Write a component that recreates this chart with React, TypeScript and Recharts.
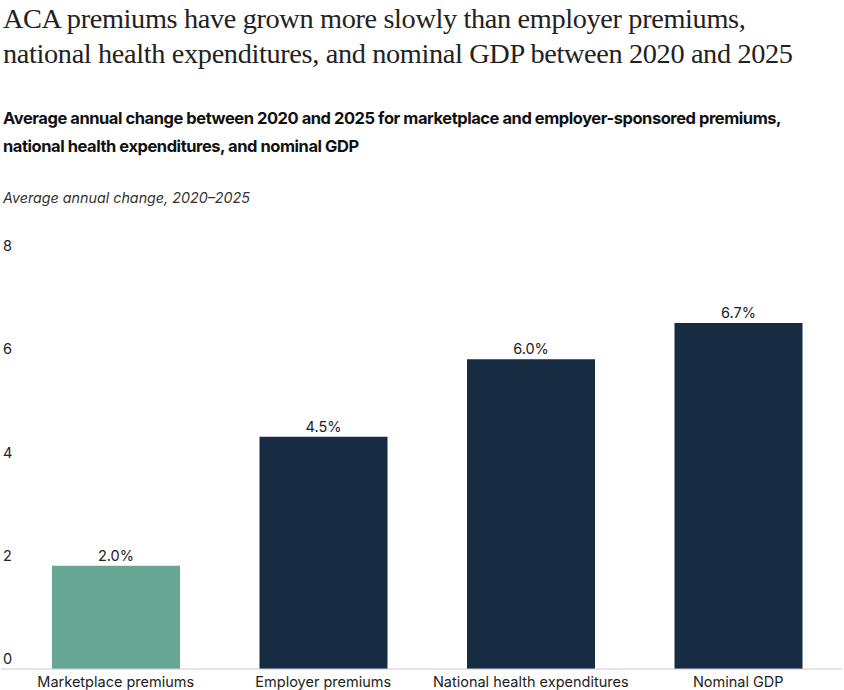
import { BarChart, Bar, XAxis, YAxis, Cell, LabelList } from 'recharts'

const categories = ['Marketplace premiums', 'Employer premiums', 'National health expenditures', 'Nominal GDP']
const changes = [2.0, 4.5, 6.0, 6.7]
const yTicks = [0, 2, 4, 6, 8]

const GREEN = '#67a692'
const NAVY = '#172b43'
const SANS = 'Inter, "Liberation Sans", sans-serif'

const data = categories.map((name, i) => ({ name, value: changes[i] }))

function YTick(props: any) {
  const { y, payload } = props
  return (
    <text x={3} y={y - 5} fontSize={14.5} fill="#222" fontFamily={SANS}>
      {payload.value}
    </text>
  )
}

export default function App() {
  return (
    <div style={{ position: 'absolute', left: 0, top: 0, width: 844, height: 690, background: '#fff' }}>
      <div
        style={{
          position: 'absolute',
          left: 3,
          top: 1,
          fontFamily: '"Liberation Serif", serif',
          fontSize: 28.3,
          lineHeight: '35px',
          color: '#222',
          letterSpacing: -0.35,
        }}
      >
        ACA premiums have grown more slowly than employer premiums,
        <br />
        national health expenditures, and nominal GDP between 2020 and 2025
      </div>
      <div
        style={{
          position: 'absolute',
          left: 3,
          top: 104,
          fontFamily: SANS,
          fontWeight: 700,
          fontSize: 16.5,
          lineHeight: '28px',
          letterSpacing: -0.45,
          color: '#111',
        }}
      >
        Average annual change between 2020 and 2025 for marketplace and employer-sponsored premiums,
        <br />
        national health expenditures, and nominal GDP
      </div>
      <div
        style={{
          position: 'absolute',
          left: 3,
          top: 189,
          fontFamily: SANS,
          fontStyle: 'italic',
          fontSize: 14.3,
          color: '#333',
        }}
      >
        Average annual change, 2020–2025
      </div>
      <div style={{ position: 'absolute', left: 0, top: 220 }}>
        <BarChart width={844} height={470} data={data} margin={{ top: 36, right: 2, bottom: 0, left: 0 }} barSize={128}>
          <XAxis
            dataKey="name"
            axisLine={{ stroke: '#cccccc' }}
            tickLine={false}
            padding={{ left: 11, right: 0 }}
            height={21}
            interval={0}
            tick={{ fontSize: 14.5, fill: '#222', fontFamily: SANS }}
          />
          <YAxis
            width={1}
            domain={[0, 8]}
            ticks={yTicks}
            axisLine={false}
            tickLine={false}
            tick={<YTick />}
          />
          <Bar dataKey="value" isAnimationActive={false}>
            {data.map((d, i) => (
              <Cell key={d.name} fill={i === 0 ? GREEN : NAVY} />
            ))}
            <LabelList
              dataKey="value"
              position="top"
              offset={5}
              formatter={(v: any) => `${Number(v).toFixed(1)}%`}
              style={{ fontSize: 14.5, fill: '#222', fontFamily: SANS }}
            />
          </Bar>
        </BarChart>
      </div>
    </div>
  )
}
